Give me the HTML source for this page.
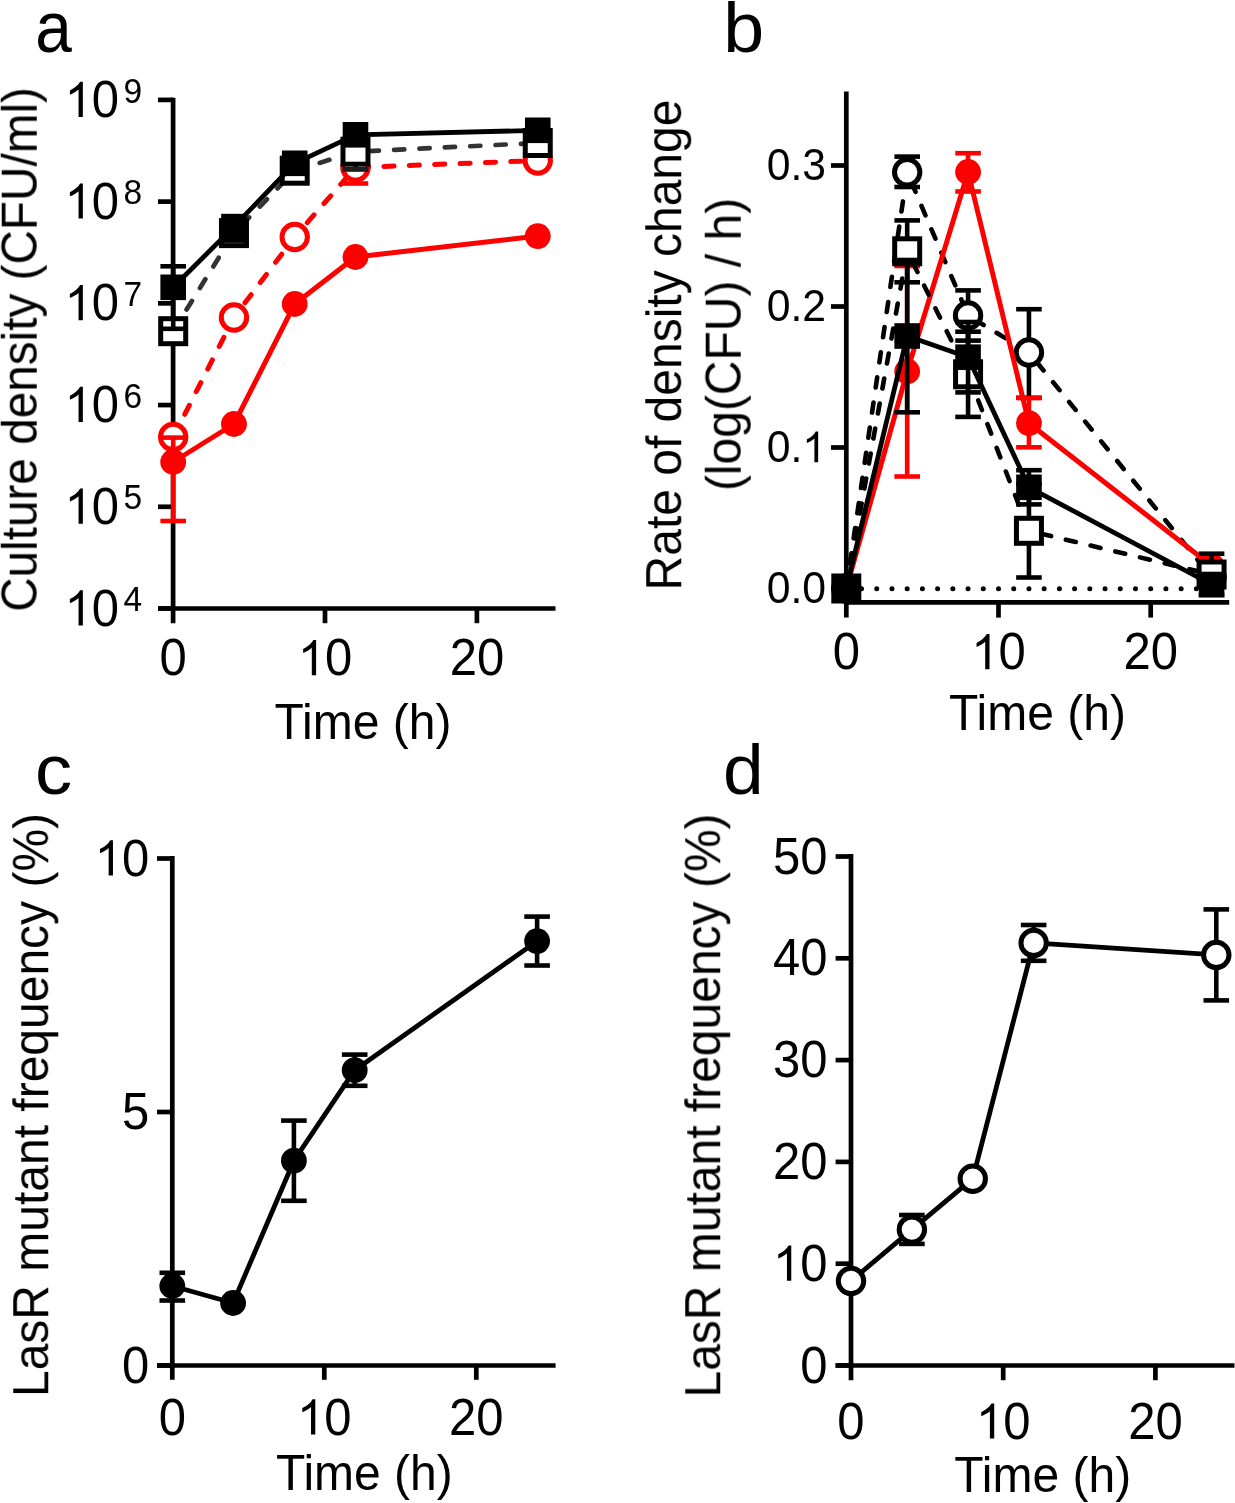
<!DOCTYPE html>
<html><head><meta charset="utf-8"><style>html,body{margin:0;padding:0;background:#fff;}svg{display:block;}</style></head>
<body><svg width="1235" height="1503" viewBox="0 0 1235 1503">
<defs><filter id="gs" x="0" y="0" width="1" height="1"><feColorMatrix type="saturate" values="0"/></filter></defs>
<rect width="1235" height="1503" fill="#fff"/>
<line x1="173.10" y1="97.70" x2="173.10" y2="623.20" stroke="#000" stroke-width="4.7" stroke-linecap="butt"/>
<line x1="158.00" y1="608.50" x2="555.50" y2="608.50" stroke="#000" stroke-width="4.7" stroke-linecap="butt"/>
<line x1="158.00" y1="608.50" x2="173.10" y2="608.50" stroke="#000" stroke-width="4.7" stroke-linecap="butt"/>
<line x1="158.00" y1="506.78" x2="173.10" y2="506.78" stroke="#000" stroke-width="4.7" stroke-linecap="butt"/>
<line x1="158.00" y1="405.06" x2="173.10" y2="405.06" stroke="#000" stroke-width="4.7" stroke-linecap="butt"/>
<line x1="158.00" y1="303.34" x2="173.10" y2="303.34" stroke="#000" stroke-width="4.7" stroke-linecap="butt"/>
<line x1="158.00" y1="201.62" x2="173.10" y2="201.62" stroke="#000" stroke-width="4.7" stroke-linecap="butt"/>
<line x1="158.00" y1="99.90" x2="173.10" y2="99.90" stroke="#000" stroke-width="4.7" stroke-linecap="butt"/>
<line x1="325.00" y1="608.50" x2="325.00" y2="623.20" stroke="#000" stroke-width="4.7" stroke-linecap="butt"/>
<line x1="476.90" y1="608.50" x2="476.90" y2="623.20" stroke="#000" stroke-width="4.7" stroke-linecap="butt"/>
<polyline points="173.20,437.00 233.96,317.50 294.72,237.00 355.48,167.50 537.76,160.60" fill="none" stroke="#ff0000" stroke-width="5" stroke-linecap="round" stroke-linejoin="round" stroke-dasharray="10.2 15.2"/>
<line x1="342.68" y1="183.50" x2="368.28" y2="183.50" stroke="#ff0000" stroke-width="4.6" stroke-linecap="butt"/>
<line x1="355.48" y1="167.50" x2="355.48" y2="183.50" stroke="#ff0000" stroke-width="4.6" stroke-linecap="butt"/>
<circle cx="173.20" cy="437.00" r="12.7" fill="#fff" stroke="#ff0000" stroke-width="5"/>
<circle cx="233.96" cy="317.50" r="12.7" fill="#fff" stroke="#ff0000" stroke-width="5"/>
<circle cx="294.72" cy="237.00" r="12.7" fill="#fff" stroke="#ff0000" stroke-width="5"/>
<circle cx="355.48" cy="167.50" r="12.7" fill="#fff" stroke="#ff0000" stroke-width="5"/>
<circle cx="537.76" cy="160.60" r="12.7" fill="#fff" stroke="#ff0000" stroke-width="5"/>
<polyline points="173.20,331.20 233.96,233.10 294.72,170.70 355.48,151.70 537.76,143.00" fill="none" stroke="#333333" stroke-width="4.7" stroke-linecap="round" stroke-linejoin="round" stroke-dasharray="10.2 15.2"/>
<line x1="355.48" y1="151.70" x2="355.48" y2="169.30" stroke="#1e1e1e" stroke-width="4.6" stroke-linecap="butt"/>
<line x1="342.68" y1="169.30" x2="368.28" y2="169.30" stroke="#1e1e1e" stroke-width="4.6" stroke-linecap="butt"/>
<rect x="160.70" y="318.70" width="25" height="25" fill="#fff" stroke="#000" stroke-width="5"/>
<rect x="221.46" y="220.60" width="25" height="25" fill="#fff" stroke="#000" stroke-width="5"/>
<rect x="282.22" y="158.20" width="25" height="25" fill="#fff" stroke="#000" stroke-width="5"/>
<rect x="342.98" y="139.20" width="25" height="25" fill="#fff" stroke="#000" stroke-width="5"/>
<rect x="525.26" y="130.50" width="25" height="25" fill="#fff" stroke="#000" stroke-width="5"/>
<line x1="342.68" y1="169.30" x2="368.28" y2="169.30" stroke="#1e1e1e" stroke-width="4.6" stroke-linecap="butt"/>
<polyline points="173.20,462.00 233.96,424.00 294.72,304.00 355.48,257.00 537.76,236.10" fill="none" stroke="#ff0000" stroke-width="5" stroke-linecap="butt" stroke-linejoin="round"/>
<line x1="173.20" y1="437.60" x2="173.20" y2="521.00" stroke="#ff0000" stroke-width="4.6" stroke-linecap="butt"/>
<line x1="160.40" y1="437.60" x2="186.00" y2="437.60" stroke="#ff0000" stroke-width="4.6" stroke-linecap="butt"/>
<line x1="160.40" y1="521.00" x2="186.00" y2="521.00" stroke="#ff0000" stroke-width="4.6" stroke-linecap="butt"/>
<circle cx="173.20" cy="462.00" r="12.9" fill="#ff0000"/>
<circle cx="233.96" cy="424.00" r="12.9" fill="#ff0000"/>
<circle cx="294.72" cy="304.00" r="12.9" fill="#ff0000"/>
<circle cx="355.48" cy="257.00" r="12.9" fill="#ff0000"/>
<circle cx="537.76" cy="236.10" r="12.9" fill="#ff0000"/>
<polyline points="173.20,287.30 233.96,226.60 294.72,163.30 355.48,134.80 537.76,130.30" fill="none" stroke="#000" stroke-width="4.8" stroke-linecap="butt" stroke-linejoin="round"/>
<line x1="173.20" y1="266.30" x2="173.20" y2="328.80" stroke="#000" stroke-width="4.6" stroke-linecap="butt"/>
<line x1="160.40" y1="266.30" x2="186.00" y2="266.30" stroke="#000" stroke-width="4.6" stroke-linecap="butt"/>
<line x1="160.40" y1="328.80" x2="186.00" y2="328.80" stroke="#000" stroke-width="4.6" stroke-linecap="butt"/>
<line x1="221.16" y1="240.60" x2="246.76" y2="240.60" stroke="#000" stroke-width="4.6" stroke-linecap="butt"/>
<rect x="160.40" y="274.50" width="25.6" height="25.6" fill="#000"/>
<rect x="221.16" y="213.80" width="25.6" height="25.6" fill="#000"/>
<rect x="281.92" y="150.50" width="25.6" height="25.6" fill="#000"/>
<rect x="342.68" y="122.00" width="25.6" height="25.6" fill="#000"/>
<rect x="524.96" y="117.50" width="25.6" height="25.6" fill="#000"/>
<line x1="846.30" y1="91.60" x2="846.30" y2="617.60" stroke="#000" stroke-width="4.7" stroke-linecap="butt"/>
<line x1="846.30" y1="602.30" x2="1229.20" y2="602.30" stroke="#000" stroke-width="4.7" stroke-linecap="butt"/>
<line x1="831.00" y1="588.50" x2="846.30" y2="588.50" stroke="#000" stroke-width="4.7" stroke-linecap="butt"/>
<line x1="831.00" y1="447.50" x2="846.30" y2="447.50" stroke="#000" stroke-width="4.7" stroke-linecap="butt"/>
<line x1="831.00" y1="306.50" x2="846.30" y2="306.50" stroke="#000" stroke-width="4.7" stroke-linecap="butt"/>
<line x1="831.00" y1="165.50" x2="846.30" y2="165.50" stroke="#000" stroke-width="4.7" stroke-linecap="butt"/>
<line x1="998.50" y1="602.30" x2="998.50" y2="617.60" stroke="#000" stroke-width="4.7" stroke-linecap="butt"/>
<line x1="1150.70" y1="602.30" x2="1150.70" y2="617.60" stroke="#000" stroke-width="4.7" stroke-linecap="butt"/>
<circle cx="861.52" cy="588.70" r="2.5" fill="#000"/>
<circle cx="876.74" cy="588.70" r="2.5" fill="#000"/>
<circle cx="891.96" cy="588.70" r="2.5" fill="#000"/>
<circle cx="907.18" cy="588.70" r="2.5" fill="#000"/>
<circle cx="922.40" cy="588.70" r="2.5" fill="#000"/>
<circle cx="937.62" cy="588.70" r="2.5" fill="#000"/>
<circle cx="952.84" cy="588.70" r="2.5" fill="#000"/>
<circle cx="968.06" cy="588.70" r="2.5" fill="#000"/>
<circle cx="983.28" cy="588.70" r="2.5" fill="#000"/>
<circle cx="998.50" cy="588.70" r="2.5" fill="#000"/>
<circle cx="1013.72" cy="588.70" r="2.5" fill="#000"/>
<circle cx="1028.94" cy="588.70" r="2.5" fill="#000"/>
<circle cx="1044.16" cy="588.70" r="2.5" fill="#000"/>
<circle cx="1059.38" cy="588.70" r="2.5" fill="#000"/>
<circle cx="1074.60" cy="588.70" r="2.5" fill="#000"/>
<circle cx="1089.82" cy="588.70" r="2.5" fill="#000"/>
<circle cx="1105.04" cy="588.70" r="2.5" fill="#000"/>
<circle cx="1120.26" cy="588.70" r="2.5" fill="#000"/>
<circle cx="1135.48" cy="588.70" r="2.5" fill="#000"/>
<circle cx="1150.70" cy="588.70" r="2.5" fill="#000"/>
<circle cx="1165.92" cy="588.70" r="2.5" fill="#000"/>
<circle cx="1181.14" cy="588.70" r="2.5" fill="#000"/>
<circle cx="1196.36" cy="588.70" r="2.5" fill="#000"/>
<circle cx="1211.58" cy="588.70" r="2.5" fill="#000"/>
<polyline points="846.30,588.50 907.18,172.30 968.06,315.50 1028.94,352.50 1211.58,577.00" fill="none" stroke="#000" stroke-width="4.6" stroke-linecap="round" stroke-linejoin="round" stroke-dasharray="10.2 15.2"/>
<line x1="907.18" y1="156.60" x2="907.18" y2="187.00" stroke="#000" stroke-width="4.6" stroke-linecap="butt"/>
<line x1="894.38" y1="156.60" x2="919.98" y2="156.60" stroke="#000" stroke-width="4.6" stroke-linecap="butt"/>
<line x1="894.38" y1="187.00" x2="919.98" y2="187.00" stroke="#000" stroke-width="4.6" stroke-linecap="butt"/>
<line x1="968.06" y1="290.40" x2="968.06" y2="340.60" stroke="#000" stroke-width="4.6" stroke-linecap="butt"/>
<line x1="955.26" y1="290.40" x2="980.86" y2="290.40" stroke="#000" stroke-width="4.6" stroke-linecap="butt"/>
<line x1="955.26" y1="340.60" x2="980.86" y2="340.60" stroke="#000" stroke-width="4.6" stroke-linecap="butt"/>
<line x1="1028.94" y1="309.20" x2="1028.94" y2="397.80" stroke="#000" stroke-width="4.6" stroke-linecap="butt"/>
<line x1="1016.14" y1="309.20" x2="1041.74" y2="309.20" stroke="#000" stroke-width="4.6" stroke-linecap="butt"/>
<line x1="1016.14" y1="397.80" x2="1041.74" y2="397.80" stroke="#000" stroke-width="4.6" stroke-linecap="butt"/>
<circle cx="846.30" cy="588.50" r="12.7" fill="#fff" stroke="#000" stroke-width="5"/>
<circle cx="907.18" cy="172.30" r="12.7" fill="#fff" stroke="#000" stroke-width="5"/>
<circle cx="968.06" cy="315.50" r="12.7" fill="#fff" stroke="#000" stroke-width="5"/>
<circle cx="1028.94" cy="352.50" r="12.7" fill="#fff" stroke="#000" stroke-width="5"/>
<circle cx="1211.58" cy="577.00" r="12.7" fill="#fff" stroke="#000" stroke-width="5"/>
<polyline points="846.30,588.50 907.18,371.50 968.06,172.00 1028.94,423.20 1211.58,565.80" fill="none" stroke="#ff0000" stroke-width="5" stroke-linecap="butt" stroke-linejoin="round"/>
<line x1="907.18" y1="266.00" x2="907.18" y2="476.50" stroke="#ff0000" stroke-width="4.6" stroke-linecap="butt"/>
<line x1="894.38" y1="266.00" x2="919.98" y2="266.00" stroke="#ff0000" stroke-width="4.6" stroke-linecap="butt"/>
<line x1="894.38" y1="476.50" x2="919.98" y2="476.50" stroke="#ff0000" stroke-width="4.6" stroke-linecap="butt"/>
<line x1="968.06" y1="153.20" x2="968.06" y2="191.50" stroke="#ff0000" stroke-width="4.6" stroke-linecap="butt"/>
<line x1="955.26" y1="153.20" x2="980.86" y2="153.20" stroke="#ff0000" stroke-width="4.6" stroke-linecap="butt"/>
<line x1="955.26" y1="191.50" x2="980.86" y2="191.50" stroke="#ff0000" stroke-width="4.6" stroke-linecap="butt"/>
<line x1="1028.94" y1="398.00" x2="1028.94" y2="447.30" stroke="#ff0000" stroke-width="4.6" stroke-linecap="butt"/>
<line x1="1016.14" y1="398.00" x2="1041.74" y2="398.00" stroke="#ff0000" stroke-width="4.6" stroke-linecap="butt"/>
<line x1="1016.14" y1="447.30" x2="1041.74" y2="447.30" stroke="#ff0000" stroke-width="4.6" stroke-linecap="butt"/>
<circle cx="846.30" cy="588.50" r="12.9" fill="#ff0000"/>
<circle cx="907.18" cy="371.50" r="12.9" fill="#ff0000"/>
<circle cx="968.06" cy="172.00" r="12.9" fill="#ff0000"/>
<circle cx="1028.94" cy="423.20" r="12.9" fill="#ff0000"/>
<circle cx="1211.58" cy="565.80" r="12.9" fill="#ff0000"/>
<polyline points="846.30,588.50 907.18,251.30 968.06,374.30 1028.94,530.80 1211.58,574.50" fill="none" stroke="#000" stroke-width="4.6" stroke-linecap="round" stroke-linejoin="round" stroke-dasharray="10.2 15.2"/>
<line x1="907.18" y1="220.40" x2="907.18" y2="282.30" stroke="#000" stroke-width="4.6" stroke-linecap="butt"/>
<line x1="894.38" y1="220.40" x2="919.98" y2="220.40" stroke="#000" stroke-width="4.6" stroke-linecap="butt"/>
<line x1="894.38" y1="282.30" x2="919.98" y2="282.30" stroke="#000" stroke-width="4.6" stroke-linecap="butt"/>
<line x1="968.06" y1="331.70" x2="968.06" y2="416.90" stroke="#000" stroke-width="4.6" stroke-linecap="butt"/>
<line x1="955.26" y1="331.70" x2="980.86" y2="331.70" stroke="#000" stroke-width="4.6" stroke-linecap="butt"/>
<line x1="955.26" y1="416.90" x2="980.86" y2="416.90" stroke="#000" stroke-width="4.6" stroke-linecap="butt"/>
<line x1="1028.94" y1="484.00" x2="1028.94" y2="577.50" stroke="#000" stroke-width="4.6" stroke-linecap="butt"/>
<line x1="1016.14" y1="484.00" x2="1041.74" y2="484.00" stroke="#000" stroke-width="4.6" stroke-linecap="butt"/>
<line x1="1016.14" y1="577.50" x2="1041.74" y2="577.50" stroke="#000" stroke-width="4.6" stroke-linecap="butt"/>
<line x1="1211.58" y1="553.70" x2="1211.58" y2="595.00" stroke="#000" stroke-width="4.6" stroke-linecap="butt"/>
<line x1="1198.78" y1="553.70" x2="1224.38" y2="553.70" stroke="#000" stroke-width="4.6" stroke-linecap="butt"/>
<line x1="1198.78" y1="595.00" x2="1224.38" y2="595.00" stroke="#000" stroke-width="4.6" stroke-linecap="butt"/>
<rect x="833.80" y="576.00" width="25" height="25" fill="#fff" stroke="#000" stroke-width="5"/>
<rect x="894.68" y="238.80" width="25" height="25" fill="#fff" stroke="#000" stroke-width="5"/>
<rect x="955.56" y="361.80" width="25" height="25" fill="#fff" stroke="#000" stroke-width="5"/>
<rect x="1016.44" y="518.30" width="25" height="25" fill="#fff" stroke="#000" stroke-width="5"/>
<rect x="1199.08" y="562.00" width="25" height="25" fill="#fff" stroke="#000" stroke-width="5"/>
<polyline points="846.30,588.50 907.18,336.00 968.06,357.20 1028.94,487.30 1211.58,584.50" fill="none" stroke="#000" stroke-width="4.8" stroke-linecap="butt" stroke-linejoin="round"/>
<line x1="907.18" y1="260.00" x2="907.18" y2="412.30" stroke="#000" stroke-width="4.6" stroke-linecap="butt"/>
<line x1="894.38" y1="260.00" x2="919.98" y2="260.00" stroke="#000" stroke-width="4.6" stroke-linecap="butt"/>
<line x1="894.38" y1="412.30" x2="919.98" y2="412.30" stroke="#000" stroke-width="4.6" stroke-linecap="butt"/>
<line x1="968.06" y1="322.00" x2="968.06" y2="392.40" stroke="#000" stroke-width="4.6" stroke-linecap="butt"/>
<line x1="955.26" y1="322.00" x2="980.86" y2="322.00" stroke="#000" stroke-width="4.6" stroke-linecap="butt"/>
<line x1="955.26" y1="392.40" x2="980.86" y2="392.40" stroke="#000" stroke-width="4.6" stroke-linecap="butt"/>
<line x1="1028.94" y1="470.20" x2="1028.94" y2="504.40" stroke="#000" stroke-width="4.6" stroke-linecap="butt"/>
<line x1="1016.14" y1="470.20" x2="1041.74" y2="470.20" stroke="#000" stroke-width="4.6" stroke-linecap="butt"/>
<line x1="1016.14" y1="504.40" x2="1041.74" y2="504.40" stroke="#000" stroke-width="4.6" stroke-linecap="butt"/>
<rect x="833.50" y="575.70" width="25.6" height="25.6" fill="#000"/>
<rect x="894.38" y="323.20" width="25.6" height="25.6" fill="#000"/>
<rect x="955.26" y="344.40" width="25.6" height="25.6" fill="#000"/>
<rect x="1016.14" y="474.50" width="25.6" height="25.6" fill="#000"/>
<rect x="1198.78" y="571.70" width="25.6" height="25.6" fill="#000"/>
<line x1="172.30" y1="856.10" x2="172.30" y2="1379.80" stroke="#000" stroke-width="4.7" stroke-linecap="butt"/>
<line x1="157.00" y1="1365.50" x2="555.60" y2="1365.50" stroke="#000" stroke-width="4.7" stroke-linecap="butt"/>
<line x1="157.00" y1="1365.50" x2="172.30" y2="1365.50" stroke="#000" stroke-width="4.7" stroke-linecap="butt"/>
<line x1="157.00" y1="1112.00" x2="172.30" y2="1112.00" stroke="#000" stroke-width="4.7" stroke-linecap="butt"/>
<line x1="157.00" y1="858.50" x2="172.30" y2="858.50" stroke="#000" stroke-width="4.7" stroke-linecap="butt"/>
<line x1="324.30" y1="1365.50" x2="324.30" y2="1379.80" stroke="#000" stroke-width="4.7" stroke-linecap="butt"/>
<line x1="476.30" y1="1365.50" x2="476.30" y2="1379.80" stroke="#000" stroke-width="4.7" stroke-linecap="butt"/>
<polyline points="172.30,1286.00 233.10,1303.00 293.90,1160.70 354.70,1070.20 537.10,941.10" fill="none" stroke="#000" stroke-width="4.8" stroke-linecap="butt" stroke-linejoin="round"/>
<line x1="172.30" y1="1272.80" x2="172.30" y2="1300.50" stroke="#000" stroke-width="4.6" stroke-linecap="butt"/>
<line x1="159.50" y1="1272.80" x2="185.10" y2="1272.80" stroke="#000" stroke-width="4.6" stroke-linecap="butt"/>
<line x1="159.50" y1="1300.50" x2="185.10" y2="1300.50" stroke="#000" stroke-width="4.6" stroke-linecap="butt"/>
<line x1="293.90" y1="1120.60" x2="293.90" y2="1200.80" stroke="#000" stroke-width="4.6" stroke-linecap="butt"/>
<line x1="281.10" y1="1120.60" x2="306.70" y2="1120.60" stroke="#000" stroke-width="4.6" stroke-linecap="butt"/>
<line x1="281.10" y1="1200.80" x2="306.70" y2="1200.80" stroke="#000" stroke-width="4.6" stroke-linecap="butt"/>
<line x1="354.70" y1="1054.60" x2="354.70" y2="1085.80" stroke="#000" stroke-width="4.6" stroke-linecap="butt"/>
<line x1="341.90" y1="1054.60" x2="367.50" y2="1054.60" stroke="#000" stroke-width="4.6" stroke-linecap="butt"/>
<line x1="341.90" y1="1085.80" x2="367.50" y2="1085.80" stroke="#000" stroke-width="4.6" stroke-linecap="butt"/>
<line x1="537.10" y1="916.60" x2="537.10" y2="965.50" stroke="#000" stroke-width="4.6" stroke-linecap="butt"/>
<line x1="524.30" y1="916.60" x2="549.90" y2="916.60" stroke="#000" stroke-width="4.6" stroke-linecap="butt"/>
<line x1="524.30" y1="965.50" x2="549.90" y2="965.50" stroke="#000" stroke-width="4.6" stroke-linecap="butt"/>
<circle cx="172.30" cy="1286.00" r="12.9" fill="#000"/>
<circle cx="233.10" cy="1303.00" r="12.9" fill="#000"/>
<circle cx="293.90" cy="1160.70" r="12.9" fill="#000"/>
<circle cx="354.70" cy="1070.20" r="12.9" fill="#000"/>
<circle cx="537.10" cy="941.10" r="12.9" fill="#000"/>
<line x1="851.00" y1="854.10" x2="851.00" y2="1380.20" stroke="#000" stroke-width="4.7" stroke-linecap="butt"/>
<line x1="835.60" y1="1365.50" x2="1234.50" y2="1365.50" stroke="#000" stroke-width="4.7" stroke-linecap="butt"/>
<line x1="835.60" y1="1365.50" x2="851.00" y2="1365.50" stroke="#000" stroke-width="4.7" stroke-linecap="butt"/>
<line x1="835.60" y1="1263.70" x2="851.00" y2="1263.70" stroke="#000" stroke-width="4.7" stroke-linecap="butt"/>
<line x1="835.60" y1="1161.90" x2="851.00" y2="1161.90" stroke="#000" stroke-width="4.7" stroke-linecap="butt"/>
<line x1="835.60" y1="1060.10" x2="851.00" y2="1060.10" stroke="#000" stroke-width="4.7" stroke-linecap="butt"/>
<line x1="835.60" y1="958.30" x2="851.00" y2="958.30" stroke="#000" stroke-width="4.7" stroke-linecap="butt"/>
<line x1="835.60" y1="856.50" x2="851.00" y2="856.50" stroke="#000" stroke-width="4.7" stroke-linecap="butt"/>
<line x1="1003.20" y1="1365.50" x2="1003.20" y2="1380.20" stroke="#000" stroke-width="4.7" stroke-linecap="butt"/>
<line x1="1155.40" y1="1365.50" x2="1155.40" y2="1380.20" stroke="#000" stroke-width="4.7" stroke-linecap="butt"/>
<polyline points="851.00,1281.00 911.88,1229.60 972.76,1178.70 1033.64,942.90 1216.28,954.90" fill="none" stroke="#000" stroke-width="4.8" stroke-linecap="butt" stroke-linejoin="round"/>
<line x1="911.88" y1="1215.00" x2="911.88" y2="1243.90" stroke="#000" stroke-width="4.6" stroke-linecap="butt"/>
<line x1="899.08" y1="1215.00" x2="924.68" y2="1215.00" stroke="#000" stroke-width="4.6" stroke-linecap="butt"/>
<line x1="899.08" y1="1243.90" x2="924.68" y2="1243.90" stroke="#000" stroke-width="4.6" stroke-linecap="butt"/>
<line x1="1033.64" y1="925.00" x2="1033.64" y2="960.80" stroke="#000" stroke-width="4.6" stroke-linecap="butt"/>
<line x1="1020.84" y1="925.00" x2="1046.44" y2="925.00" stroke="#000" stroke-width="4.6" stroke-linecap="butt"/>
<line x1="1020.84" y1="960.80" x2="1046.44" y2="960.80" stroke="#000" stroke-width="4.6" stroke-linecap="butt"/>
<line x1="1216.28" y1="909.40" x2="1216.28" y2="1000.40" stroke="#000" stroke-width="4.6" stroke-linecap="butt"/>
<line x1="1203.48" y1="909.40" x2="1229.08" y2="909.40" stroke="#000" stroke-width="4.6" stroke-linecap="butt"/>
<line x1="1203.48" y1="1000.40" x2="1229.08" y2="1000.40" stroke="#000" stroke-width="4.6" stroke-linecap="butt"/>
<circle cx="851.00" cy="1281.00" r="12.7" fill="#fff" stroke="#000" stroke-width="5"/>
<circle cx="911.88" cy="1229.60" r="12.7" fill="#fff" stroke="#000" stroke-width="5"/>
<circle cx="972.76" cy="1178.70" r="12.7" fill="#fff" stroke="#000" stroke-width="5"/>
<circle cx="1033.64" cy="942.90" r="12.7" fill="#fff" stroke="#000" stroke-width="5"/>
<circle cx="1216.28" cy="954.90" r="12.7" fill="#fff" stroke="#000" stroke-width="5"/>
<g filter="url(#gs)">
<path d="M763 0L583 0L583 1147Q518 1085 412 1023Q306 961 221 930L221 1104Q373 1175 487 1276Q601 1377 648 1472L763 1472Z" transform="translate(64.60,625.50) scale(0.02393,-0.02393)" fill="#000"/>
<g transform="translate(91.85,625.50) scale(1,1.04)"><text x="0" y="0" font-family="Liberation Sans" font-size="49">0</text></g>
<g transform="translate(123.60,611.10) scale(1,1.04)"><text x="0" y="0" font-family="Liberation Sans" font-size="33.5">4</text></g>
<path d="M763 0L583 0L583 1147Q518 1085 412 1023Q306 961 221 930L221 1104Q373 1175 487 1276Q601 1377 648 1472L763 1472Z" transform="translate(64.60,523.78) scale(0.02393,-0.02393)" fill="#000"/>
<g transform="translate(91.85,523.78) scale(1,1.04)"><text x="0" y="0" font-family="Liberation Sans" font-size="49">0</text></g>
<g transform="translate(123.60,509.38) scale(1,1.04)"><text x="0" y="0" font-family="Liberation Sans" font-size="33.5">5</text></g>
<path d="M763 0L583 0L583 1147Q518 1085 412 1023Q306 961 221 930L221 1104Q373 1175 487 1276Q601 1377 648 1472L763 1472Z" transform="translate(64.60,422.06) scale(0.02393,-0.02393)" fill="#000"/>
<g transform="translate(91.85,422.06) scale(1,1.04)"><text x="0" y="0" font-family="Liberation Sans" font-size="49">0</text></g>
<g transform="translate(123.60,407.66) scale(1,1.04)"><text x="0" y="0" font-family="Liberation Sans" font-size="33.5">6</text></g>
<path d="M763 0L583 0L583 1147Q518 1085 412 1023Q306 961 221 930L221 1104Q373 1175 487 1276Q601 1377 648 1472L763 1472Z" transform="translate(64.60,320.34) scale(0.02393,-0.02393)" fill="#000"/>
<g transform="translate(91.85,320.34) scale(1,1.04)"><text x="0" y="0" font-family="Liberation Sans" font-size="49">0</text></g>
<g transform="translate(123.60,305.94) scale(1,1.04)"><text x="0" y="0" font-family="Liberation Sans" font-size="33.5">7</text></g>
<path d="M763 0L583 0L583 1147Q518 1085 412 1023Q306 961 221 930L221 1104Q373 1175 487 1276Q601 1377 648 1472L763 1472Z" transform="translate(64.60,218.62) scale(0.02393,-0.02393)" fill="#000"/>
<g transform="translate(91.85,218.62) scale(1,1.04)"><text x="0" y="0" font-family="Liberation Sans" font-size="49">0</text></g>
<g transform="translate(123.60,204.22) scale(1,1.04)"><text x="0" y="0" font-family="Liberation Sans" font-size="33.5">8</text></g>
<path d="M763 0L583 0L583 1147Q518 1085 412 1023Q306 961 221 930L221 1104Q373 1175 487 1276Q601 1377 648 1472L763 1472Z" transform="translate(64.60,116.90) scale(0.02393,-0.02393)" fill="#000"/>
<g transform="translate(91.85,116.90) scale(1,1.04)"><text x="0" y="0" font-family="Liberation Sans" font-size="49">0</text></g>
<g transform="translate(123.60,102.50) scale(1,1.04)"><text x="0" y="0" font-family="Liberation Sans" font-size="33.5">9</text></g>
<g transform="translate(159.57,675.30) scale(1,1.04)"><text x="0" y="0" font-family="Liberation Sans" font-size="49">0</text></g>
<path d="M763 0L583 0L583 1147Q518 1085 412 1023Q306 961 221 930L221 1104Q373 1175 487 1276Q601 1377 648 1472L763 1472Z" transform="translate(297.85,675.30) scale(0.02393,-0.02393)" fill="#000"/>
<g transform="translate(325.10,675.30) scale(1,1.04)"><text x="0" y="0" font-family="Liberation Sans" font-size="49">0</text></g>
<g transform="translate(449.75,675.30) scale(1,1.04)"><text x="0" y="0" font-family="Liberation Sans" font-size="49">2</text></g>
<g transform="translate(477.00,675.30) scale(1,1.04)"><text x="0" y="0" font-family="Liberation Sans" font-size="49">0</text></g>
<g transform="translate(363.00,739.30) scale(1,1.04)"><text x="0" y="0" font-family="Liberation Sans" font-size="48" text-anchor="middle" fill="#000">Time (h)</text></g>
<g transform="translate(36.50,349.50) rotate(-90) scale(1,1.04)"><text x="0" y="0" font-family="Liberation Sans" font-size="47.7" text-anchor="middle" fill="#000">Culture density (CFU/ml)</text></g>
<g transform="translate(35.30,51.50) scale(0.94,1.03)"><text x="0" y="0" font-family="Liberation Sans" font-size="70">a</text></g>
<g transform="translate(766.64,603.30) scale(1,1.04)"><text x="0" y="0" font-family="Liberation Sans" font-size="42.7">0</text></g>
<g transform="translate(790.39,603.30) scale(1,1.04)"><text x="0" y="0" font-family="Liberation Sans" font-size="42.7">.</text></g>
<g transform="translate(802.25,603.30) scale(1,1.04)"><text x="0" y="0" font-family="Liberation Sans" font-size="42.7">0</text></g>
<g transform="translate(766.64,462.30) scale(1,1.04)"><text x="0" y="0" font-family="Liberation Sans" font-size="42.7">0</text></g>
<g transform="translate(790.39,462.30) scale(1,1.04)"><text x="0" y="0" font-family="Liberation Sans" font-size="42.7">.</text></g>
<path d="M763 0L583 0L583 1147Q518 1085 412 1023Q306 961 221 930L221 1104Q373 1175 487 1276Q601 1377 648 1472L763 1472Z" transform="translate(802.25,462.30) scale(0.02085,-0.02085)" fill="#000"/>
<g transform="translate(766.64,321.30) scale(1,1.04)"><text x="0" y="0" font-family="Liberation Sans" font-size="42.7">0</text></g>
<g transform="translate(790.39,321.30) scale(1,1.04)"><text x="0" y="0" font-family="Liberation Sans" font-size="42.7">.</text></g>
<g transform="translate(802.25,321.30) scale(1,1.04)"><text x="0" y="0" font-family="Liberation Sans" font-size="42.7">2</text></g>
<g transform="translate(766.64,180.30) scale(1,1.04)"><text x="0" y="0" font-family="Liberation Sans" font-size="42.7">0</text></g>
<g transform="translate(790.39,180.30) scale(1,1.04)"><text x="0" y="0" font-family="Liberation Sans" font-size="42.7">.</text></g>
<g transform="translate(802.25,180.30) scale(1,1.04)"><text x="0" y="0" font-family="Liberation Sans" font-size="42.7">3</text></g>
<g transform="translate(832.67,669.30) scale(1,1.04)"><text x="0" y="0" font-family="Liberation Sans" font-size="49">0</text></g>
<path d="M763 0L583 0L583 1147Q518 1085 412 1023Q306 961 221 930L221 1104Q373 1175 487 1276Q601 1377 648 1472L763 1472Z" transform="translate(971.25,669.30) scale(0.02393,-0.02393)" fill="#000"/>
<g transform="translate(998.50,669.30) scale(1,1.04)"><text x="0" y="0" font-family="Liberation Sans" font-size="49">0</text></g>
<g transform="translate(1123.45,669.30) scale(1,1.04)"><text x="0" y="0" font-family="Liberation Sans" font-size="49">2</text></g>
<g transform="translate(1150.70,669.30) scale(1,1.04)"><text x="0" y="0" font-family="Liberation Sans" font-size="49">0</text></g>
<g transform="translate(1037.50,729.80) scale(1,1.04)"><text x="0" y="0" font-family="Liberation Sans" font-size="48" text-anchor="middle" fill="#000">Time (h)</text></g>
<g transform="translate(681.00,345.00) rotate(-90) scale(1,1.04)"><text x="0" y="0" font-family="Liberation Sans" font-size="48" text-anchor="middle" fill="#000">Rate of density change</text></g>
<g transform="translate(740.50,344.50) rotate(-90) scale(1,1.04)"><text x="0" y="0" font-family="Liberation Sans" font-size="48" text-anchor="middle" fill="#000">(log(CFU) / h)</text></g>
<g transform="translate(723.30,51.90) scale(1.05,1.0)"><text x="0" y="0" font-family="Liberation Sans" font-size="70">b</text></g>
<g transform="translate(121.95,1382.50) scale(1,1.04)"><text x="0" y="0" font-family="Liberation Sans" font-size="49">0</text></g>
<g transform="translate(121.95,1129.00) scale(1,1.04)"><text x="0" y="0" font-family="Liberation Sans" font-size="49">5</text></g>
<path d="M763 0L583 0L583 1147Q518 1085 412 1023Q306 961 221 930L221 1104Q373 1175 487 1276Q601 1377 648 1472L763 1472Z" transform="translate(94.70,875.50) scale(0.02393,-0.02393)" fill="#000"/>
<g transform="translate(121.95,875.50) scale(1,1.04)"><text x="0" y="0" font-family="Liberation Sans" font-size="49">0</text></g>
<g transform="translate(158.67,1434.50) scale(1,1.04)"><text x="0" y="0" font-family="Liberation Sans" font-size="49">0</text></g>
<path d="M763 0L583 0L583 1147Q518 1085 412 1023Q306 961 221 930L221 1104Q373 1175 487 1276Q601 1377 648 1472L763 1472Z" transform="translate(297.05,1434.50) scale(0.02393,-0.02393)" fill="#000"/>
<g transform="translate(324.30,1434.50) scale(1,1.04)"><text x="0" y="0" font-family="Liberation Sans" font-size="49">0</text></g>
<g transform="translate(449.05,1434.50) scale(1,1.04)"><text x="0" y="0" font-family="Liberation Sans" font-size="49">2</text></g>
<g transform="translate(476.30,1434.50) scale(1,1.04)"><text x="0" y="0" font-family="Liberation Sans" font-size="49">0</text></g>
<g transform="translate(364.30,1490.40) scale(1,1.04)"><text x="0" y="0" font-family="Liberation Sans" font-size="48" text-anchor="middle" fill="#000">Time (h)</text></g>
<g transform="translate(48.00,1105.00) rotate(-90) scale(1,1.04)"><text x="0" y="0" font-family="Liberation Sans" font-size="48" text-anchor="middle" fill="#000">LasR mutant frequency (%)</text></g>
<g transform="translate(35.00,793.80) scale(1.06,1.0)"><text x="0" y="0" font-family="Liberation Sans" font-size="70">c</text></g>
<g transform="translate(800.25,1382.50) scale(1,1.04)"><text x="0" y="0" font-family="Liberation Sans" font-size="49">0</text></g>
<path d="M763 0L583 0L583 1147Q518 1085 412 1023Q306 961 221 930L221 1104Q373 1175 487 1276Q601 1377 648 1472L763 1472Z" transform="translate(773.00,1280.70) scale(0.02393,-0.02393)" fill="#000"/>
<g transform="translate(800.25,1280.70) scale(1,1.04)"><text x="0" y="0" font-family="Liberation Sans" font-size="49">0</text></g>
<g transform="translate(773.00,1178.90) scale(1,1.04)"><text x="0" y="0" font-family="Liberation Sans" font-size="49">2</text></g>
<g transform="translate(800.25,1178.90) scale(1,1.04)"><text x="0" y="0" font-family="Liberation Sans" font-size="49">0</text></g>
<g transform="translate(773.00,1077.10) scale(1,1.04)"><text x="0" y="0" font-family="Liberation Sans" font-size="49">3</text></g>
<g transform="translate(800.25,1077.10) scale(1,1.04)"><text x="0" y="0" font-family="Liberation Sans" font-size="49">0</text></g>
<g transform="translate(773.00,975.30) scale(1,1.04)"><text x="0" y="0" font-family="Liberation Sans" font-size="49">4</text></g>
<g transform="translate(800.25,975.30) scale(1,1.04)"><text x="0" y="0" font-family="Liberation Sans" font-size="49">0</text></g>
<g transform="translate(773.00,873.50) scale(1,1.04)"><text x="0" y="0" font-family="Liberation Sans" font-size="49">5</text></g>
<g transform="translate(800.25,873.50) scale(1,1.04)"><text x="0" y="0" font-family="Liberation Sans" font-size="49">0</text></g>
<g transform="translate(837.37,1438.60) scale(1,1.04)"><text x="0" y="0" font-family="Liberation Sans" font-size="49">0</text></g>
<path d="M763 0L583 0L583 1147Q518 1085 412 1023Q306 961 221 930L221 1104Q373 1175 487 1276Q601 1377 648 1472L763 1472Z" transform="translate(975.95,1438.60) scale(0.02393,-0.02393)" fill="#000"/>
<g transform="translate(1003.20,1438.60) scale(1,1.04)"><text x="0" y="0" font-family="Liberation Sans" font-size="49">0</text></g>
<g transform="translate(1128.15,1438.60) scale(1,1.04)"><text x="0" y="0" font-family="Liberation Sans" font-size="49">2</text></g>
<g transform="translate(1155.40,1438.60) scale(1,1.04)"><text x="0" y="0" font-family="Liberation Sans" font-size="49">0</text></g>
<g transform="translate(1042.70,1491.90) scale(1,1.04)"><text x="0" y="0" font-family="Liberation Sans" font-size="48" text-anchor="middle" fill="#000">Time (h)</text></g>
<g transform="translate(720.00,1105.50) rotate(-90) scale(1,1.04)"><text x="0" y="0" font-family="Liberation Sans" font-size="48" text-anchor="middle" fill="#000">LasR mutant frequency (%)</text></g>
<g transform="translate(723.00,794.00) scale(1.045,1.0)"><text x="0" y="0" font-family="Liberation Sans" font-size="70">d</text></g>
</g>
</svg></body></html>
